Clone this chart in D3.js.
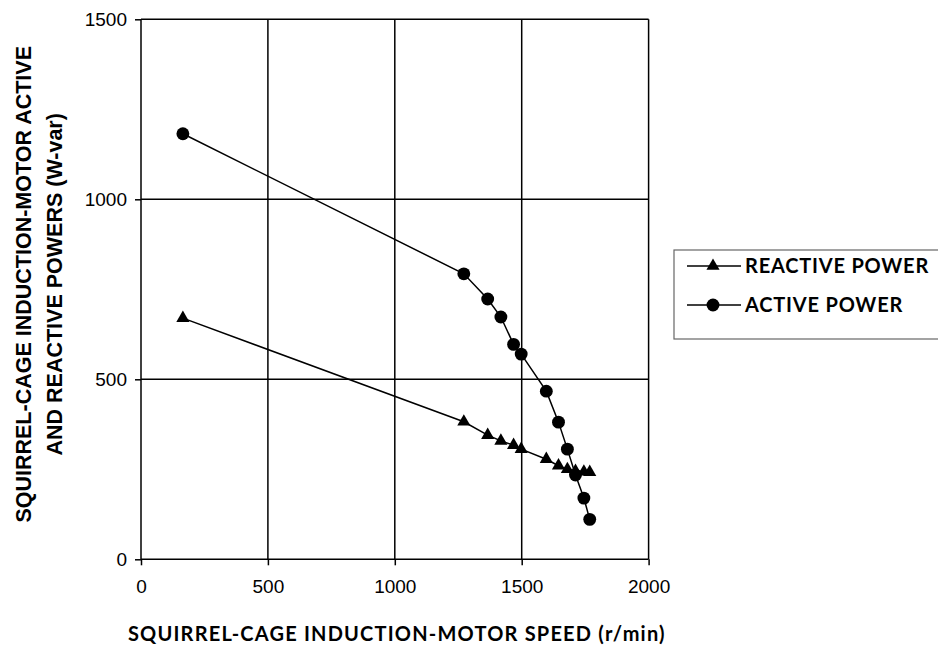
<!DOCTYPE html>
<html lang="en">
<head>
  <meta charset="UTF-8">
  <title>Induction motor powers</title>
  <script src="https://cdn.jsdelivr.net/npm/d3@7"></script>
  <style>
    body { margin: 0; background: #fff; }
    .tick text { font-family: "Liberation Sans", Arial, sans-serif; font-size: 19px; fill: #000; }
    .ttl { font-family: Lato, "DejaVu Sans", sans-serif; font-weight: bold; fill: #000; }
    .ytl { font-family: "Liberation Sans", Arial, sans-serif; font-weight: bold; font-size: 21.5px; fill: #000; }
  </style>
</head>
<body>
<div id="app"></div>
<script>
  // speed in r/min, shared by both series
  const speed = [165, 1272, 1366, 1418, 1468, 1498, 1597, 1645, 1680, 1712, 1745, 1768];
  const reactivePower = [670, 382, 345, 329, 317, 306, 278, 260, 250, 245, 243, 242];
  const activePower = [1182, 793, 723, 673, 597, 570, 467, 381, 306, 234, 170, 111];
  const xTicks = [0, 500, 1000, 1500, 2000];
  const yTicks = [0, 500, 1000, 1500];
  const seriesNames = ['REACTIVE POWER', 'ACTIVE POWER'];

  const w = 938, h = 649;
  const padL = 141, padR = 648.6, padT = 19.3, padB = 559.3;

  const svg = d3.select('#app').append('svg')
    .attr('width', w)
    .attr('height', h);

  const x = d3.scaleLinear().domain([0, 2000]).range([padL, padR]);
  const y = d3.scaleLinear().domain([0, 1500]).range([padB, padT]);

  // grid
  svg.append('g')
    .selectAll('line')
    .data(xTicks)
    .join('line')
    .attr('x1', d => x(d)).attr('x2', d => x(d))
    .attr('y1', padT).attr('y2', padB)
    .attr('stroke', '#000').attr('stroke-width', 1.5);
  svg.append('g')
    .selectAll('line')
    .data(yTicks)
    .join('line')
    .attr('x1', padL).attr('x2', padR)
    .attr('y1', d => y(d)).attr('y2', d => y(d))
    .attr('stroke', '#000').attr('stroke-width', 1.5);

  const xAxis = d3.axisBottom(x).tickValues(xTicks).tickSize(6).tickPadding(14).tickFormat(d3.format('d'));
  const yAxis = d3.axisLeft(y).tickValues(yTicks).tickSize(6).tickPadding(8).tickFormat(d3.format('d'));

  svg.append('g')
    .attr('transform', `translate(0, ${padB})`)
    .call(xAxis)
    .call(g => g.select('.domain').remove())
    .call(g => g.selectAll('.tick line').attr('stroke-width', 1.5));
  svg.append('g')
    .attr('transform', `translate(${padL}, 0)`)
    .call(yAxis)
    .call(g => g.select('.domain').remove())
    .call(g => g.selectAll('.tick line').attr('stroke-width', 1.5));

  const line = d3.line()
    .x(d => x(d[0]))
    .y(d => y(d[1]));

  const reactive = speed.map((s, i) => [s, reactivePower[i]]);
  const active = speed.map((s, i) => [s, activePower[i]]);

  const tri = d3.symbol().type(d3.symbolTriangle).size(75);
  const dot = d3.symbol().type(d3.symbolCircle).size(130);

  svg.append('path').datum(reactive)
    .attr('d', line).attr('fill', 'none').attr('stroke', '#000').attr('stroke-width', 1.5);
  svg.append('path').datum(active)
    .attr('d', line).attr('fill', 'none').attr('stroke', '#000').attr('stroke-width', 1.5);

  svg.append('g').selectAll('path')
    .data(reactive)
    .join('path')
    .attr('transform', d => `translate(${x(d[0])}, ${y(d[1])})`)
    .attr('d', tri).attr('fill', '#000');
  svg.append('g').selectAll('path')
    .data(active)
    .join('path')
    .attr('transform', d => `translate(${x(d[0])}, ${y(d[1])})`)
    .attr('d', dot).attr('fill', '#000');

  // axis titles
  svg.append('text')
    .attr('class', 'ttl')
    .attr('x', (padL + padR) / 2 + 2)
    .attr('y', 641)
    .attr('text-anchor', 'middle')
    .style('font-size', '20px')
    .style('letter-spacing', '1.2px')
    .text('SQUIRREL-CAGE INDUCTION-MOTOR SPEED (r/min)');

  const yt = svg.append('text')
    .attr('class', 'ytl')
    .attr('transform', `translate(0, ${(padT + padB) / 2 - 5}) rotate(-90)`)
    .attr('text-anchor', 'middle');
  yt.append('tspan').attr('x', 0).attr('y', 31).text('SQUIRREL-CAGE INDUCTION-MOTOR ACTIVE');
  yt.append('tspan').attr('x', 0).attr('y', 62).text('AND REACTIVE POWERS (W-var)');

  // legend
  const lg = svg.append('g');
  lg.append('rect')
    .attr('x', 674).attr('y', 250)
    .attr('width', 300).attr('height', 89)
    .attr('fill', '#fff').attr('stroke', '#666').attr('stroke-width', 1.2);
  const rows = lg.selectAll('g')
    .data(seriesNames)
    .join('g')
    .attr('transform', (d, i) => `translate(0, ${266 + i * 39})`);
  rows.append('line')
    .attr('x1', 687).attr('x2', 741)
    .attr('stroke', '#000').attr('stroke-width', 1.5);
  rows.append('path')
    .attr('transform', 'translate(713, 0)')
    .attr('d', (d, i) => i === 0 ? tri() : dot());
  rows.append('text')
    .attr('class', 'ttl')
    .attr('x', 745).attr('y', 7)
    .style('font-size', '20px')
    .style('letter-spacing', '0.8px')
    .text(d => d);
</script>
</body>
</html>
